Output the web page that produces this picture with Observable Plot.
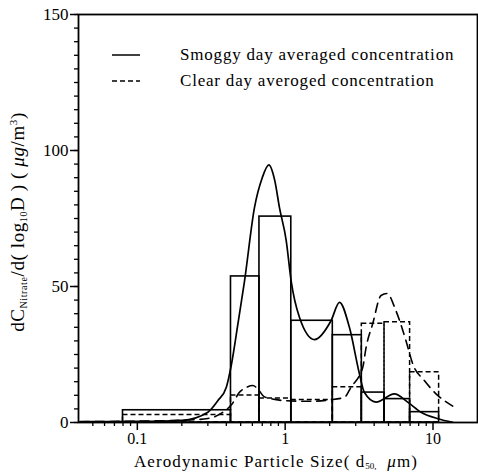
<!DOCTYPE html>
<html><head><meta charset="utf-8">
<script src="https://cdn.jsdelivr.net/npm/d3@7"></script>
<script src="https://cdn.jsdelivr.net/npm/@observablehq/plot@0.6"></script>
<style>
body{margin:0;background:#fff;}
#chart{width:478px;height:476px;}
</style></head><body><div id="chart"></div>
<script>
// Impactor stage bin edges (µm)
const binEdges = [0.08, 0.43, 0.67, 1.1, 2.1, 3.3, 4.7, 7.0, 11.0];
// Histogram heights (µg/m³)
const smoggyBars = [4.5, 53.7, 75.7, 37.4, 32.1, 11.0, 8.6, 3.8];
const clearBars  = [2.8, 9.9, 8.8, 8.3, 13.0, 36.3, 36.9, 18.5];

// Fitted smooth distributions
const smoggyX = [0.041, 0.1, 0.2, 0.3, 0.35, 0.40, 0.432, 0.48, 0.531, 0.62, 0.70, 0.776, 0.85, 0.915, 1.016, 1.098, 1.249, 1.578, 2.046, 2.33, 2.72, 3.18, 3.43, 4.12, 5.48, 6.74, 8.3, 10.8, 13.6];
const smoggyY = [0.3, 0.4, 0.8, 3.8, 8, 13, 21, 36.5, 52, 79, 90, 94.7, 89, 79, 67, 52, 38.7, 30.5, 37.5, 44.2, 35, 17.9, 11.1, 7.5, 10.5, 7.5, 3.8, 1.4, 0.1];
const clearX = [0.041, 0.1, 0.2, 0.3, 0.38, 0.44, 0.489, 0.55, 0.605, 0.66, 0.72, 0.85, 1.0, 1.5, 2.0, 2.52, 2.79, 3.35, 3.53, 3.91, 4.45, 4.89, 5.62, 6.57, 7.29, 8.74, 10.8, 13.6];
const clearY = [0.3, 0.5, 0.8, 1.5, 3.8, 7, 11, 13, 13.6, 12, 9.5, 8.5, 8, 7.8, 8.3, 9.3, 13, 20.3, 27.7, 36.3, 46.7, 47.4, 41, 30, 21.6, 15.4, 9.9, 6];

const xMajor = [0.1, 1, 10];
const xMinor = [0.05,0.06,0.07,0.08,0.09,0.2,0.3,0.4,0.5,0.6,0.7,0.8,0.9,2,3,4,5,6,7,8,9];
const yMajor = [0, 50, 100, 150];
const yMinor = d3.range(0, 151, 5);

const legendLabels = ["Smoggy day averaged concentration", "Clear day averoged concentration"];

const bars = (vals) => vals.map((v, i) => ({x1: binEdges[i], x2: binEdges[i+1], v}));
const smoggyCurve = smoggyX.map((x, i) => ({x, y: smoggyY[i]}));
const clearCurve = clearX.map((x, i) => ({x, y: clearY[i]}));

const FONT = "Liberation Serif, DejaVu Serif, serif";

const svg = Plot.plot({
  width: 478, height: 476,
  marginLeft: 78, marginRight: 1, marginTop: 14, marginBottom: 54,
  style: {fontFamily: FONT, fontSize: "16px", color: "black", background: "white"},
  x: {type: "log", domain: [0.04, 20], axis: null},
  y: {domain: [0, 150], axis: null},
  marks: [
    Plot.rect(bars(clearBars), {x1: "x1", x2: "x2", y1: 0, y2: "v", fill: "none", stroke: "black", strokeWidth: 1.5, strokeDasharray: "5,3"}),
    Plot.rect(bars(smoggyBars), {x1: "x1", x2: "x2", y1: 0, y2: "v", fill: "none", stroke: "black", strokeWidth: 1.6}),
    Plot.line(smoggyCurve, {x: "x", y: "y", stroke: "black", strokeWidth: 1.7, curve: "monotone-x"}),
    Plot.line(clearCurve, {x: "x", y: "y", stroke: "black", strokeWidth: 1.6, strokeDasharray: "9,6", curve: "monotone-x"}),
    Plot.axisX(xMinor, {tickSize: 4, tickFormat: () => "", label: null, strokeWidth: 1.3}),
    Plot.axisX(xMajor, {tickSize: 8, tickPadding: 2, fontSize: 16, tickFormat: d => String(d), label: null, strokeWidth: 1.5}),
    Plot.axisY(yMinor, {tickSize: 4, tickFormat: () => "", label: null, strokeWidth: 1.3}),
    Plot.axisY(yMajor, {tickSize: 8, tickPadding: 2, fontSize: 17, label: null, strokeWidth: 1.5}),
    Plot.frame({stroke: "black", strokeWidth: 1.8})
  ]
});

const s = d3.select(svg);
// Legend
const leg = s.append("g").attr("font-family", FONT).attr("font-size", 17).attr("text-anchor", "start").attr("letter-spacing", 0.8);
leg.append("line").attr("x1", 112).attr("x2", 140).attr("y1", 55).attr("y2", 55).attr("stroke", "black").attr("stroke-width", 1.5);
leg.append("line").attr("x1", 112).attr("x2", 140).attr("y1", 81).attr("y2", 81).attr("stroke", "black").attr("stroke-width", 1.5).attr("stroke-dasharray", "5,3");
leg.append("text").attr("x", 180).attr("y", 60).text(legendLabels[0]);
leg.append("text").attr("x", 180).attr("y", 86).text(legendLabels[1]);

// Y label
const yl = s.append("text").attr("font-family", FONT).attr("font-size", 19).attr("letter-spacing", 0.6)
  .attr("text-anchor", "middle").attr("transform", "translate(24,222) rotate(-90)");
yl.append("tspan").text("dC");
yl.append("tspan").attr("font-size", 10).attr("dy", 3).text("Nitrate");
yl.append("tspan").attr("dy", -3).text("/d( log");
yl.append("tspan").attr("font-size", 10).attr("dy", 3).text("10");
yl.append("tspan").attr("dy", -3).text("D ) ( ");
yl.append("tspan").attr("font-style", "italic").text("μg");
yl.append("tspan").text("/m");
yl.append("tspan").attr("font-size", 11).attr("dy", -7).text("3");
yl.append("tspan").attr("dy", 7).text(")");

// X label
const xl = s.append("text").attr("font-family", FONT).attr("font-size", 17).attr("letter-spacing", 1.1)
  .attr("text-anchor", "middle").attr("x", 276).attr("y", 467);
xl.append("tspan").text("Aerodynamic Particle Size( d");
xl.append("tspan").attr("font-size", 9).attr("letter-spacing", 0).attr("dy", 2).text("50,");
xl.append("tspan").attr("dy", -2).text("  ");
xl.append("tspan").attr("font-style", "italic").text("μ");
xl.append("tspan").text("m)");

document.getElementById("chart").appendChild(svg);
</script></body></html>
